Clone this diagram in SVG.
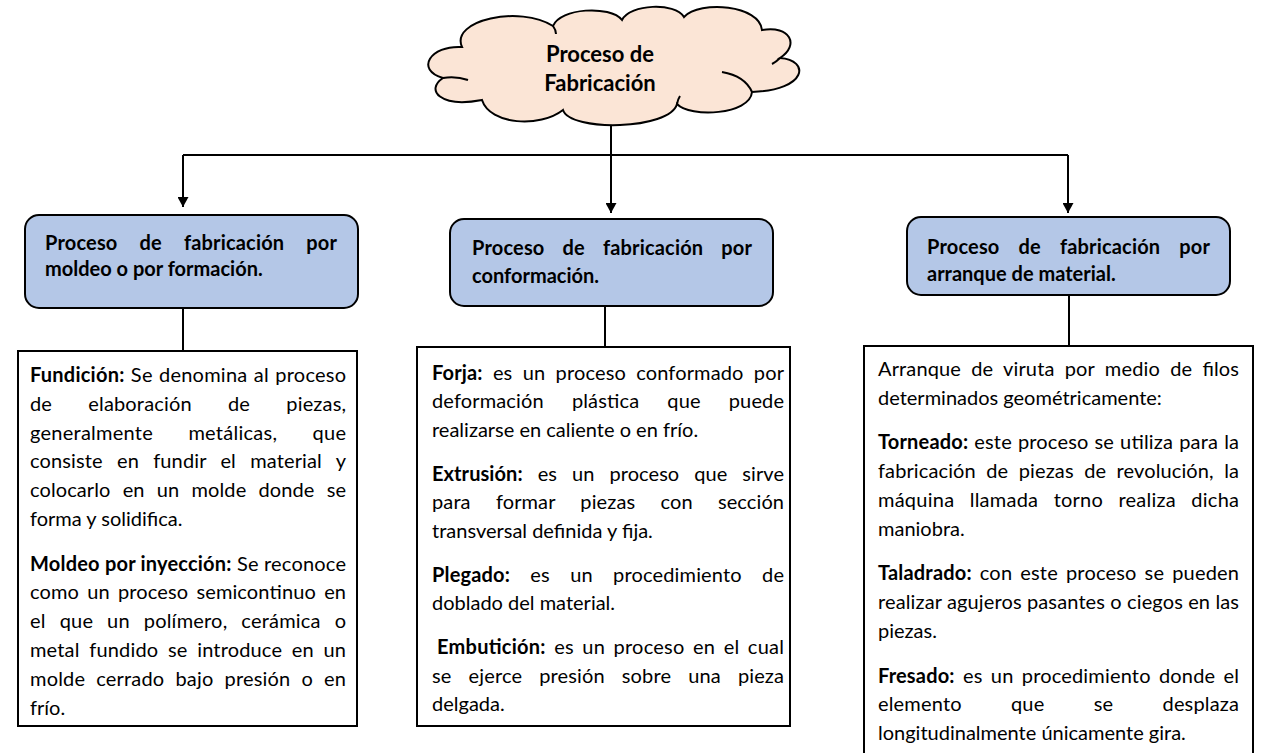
<svg xmlns="http://www.w3.org/2000/svg" width="1262" height="753" viewBox="0 0 1262 753">
<style>
.t{font-family:Lato,"Liberation Sans",sans-serif;font-size:20px;fill:#000}
.h{font-family:Lato,"Liberation Sans",sans-serif;font-size:20px;font-weight:bold;fill:#000}
.c{font-family:Lato,"Liberation Sans",sans-serif;font-size:22px;font-weight:bold;fill:#000;text-anchor:middle}
.b{font-weight:bold}
.hd{fill:#B4C7E7;stroke:#000;stroke-width:2}
.bx{fill:#fff;stroke:#000;stroke-width:2}
.ln{stroke:#000;stroke-width:2;fill:none}
.cl{fill:#FBE5D6;stroke:#000;stroke-width:2}
</style>
<defs>
<marker id="ah" markerUnits="userSpaceOnUse" markerWidth="11" markerHeight="11" refX="10" refY="5.5" orient="auto"><path d="M0,0 L10,5.5 L0,11 Z" fill="#000"/></marker>
</defs>
<rect width="1262" height="753" fill="#fff"/>

<g id="connectors">
<path class="ln" d="M611,126 V155"/>
<path class="ln" d="M183,155 H1068"/>
<path class="ln" d="M183,155 V207" marker-end="url(#ah)"/>
<path class="ln" d="M611,155 V213" marker-end="url(#ah)"/>
<path class="ln" d="M1068,155 V213" marker-end="url(#ah)"/>
<path class="ln" d="M183,308 V351"/>
<path class="ln" d="M605,306 V347"/>
<path class="ln" d="M1069,295 V346"/>
</g>

<g id="cloud">
<path class="cl" d="M462,47 C450,20 520,5 553,26 C560,8 610,5 622,20 C630,4 675,2 684,17 C700,0 760,5 762,30 C790,25 800,45 780,58 C810,60 808,90 752,92 C750,115 690,118 677,104 C670,130 570,132 563,110 C540,128 490,125 482,100 C440,108 425,90 443,78 C415,70 430,45 462,47 Z"/>
<path class="ln" d="M443,78 Q456,76 468,80"/>
<path class="ln" d="M722,72 Q745,76 752,92"/>
<path class="ln" d="M553,26 Q556,30 556,34"/>
<path class="ln" d="M780,58 Q776,62 772,64"/>
<path class="ln" d="M677,104 Q678,99 680,96"/>
<text class="c" x="600" y="62">Proceso de</text>
<text class="c" x="600" y="91">Fabricación</text>
</g>

<g id="h1">
<rect class="hd" x="25" y="215" width="333" height="93" rx="14"/>
<text class="h" x="45" y="250" textLength="292" lengthAdjust="spacing" style="word-spacing:17px">Proceso de fabricación por</text>
<text class="h" x="45" y="276">moldeo o por formación.</text>
</g>
<g id="h2">
<rect class="hd" x="450" y="219" width="323" height="87" rx="14"/>
<text class="h" x="472" y="255" textLength="280" lengthAdjust="spacing" style="word-spacing:13px">Proceso de fabricación por</text>
<text class="h" x="472" y="283">conformación.</text>
</g>
<g id="h3">
<rect class="hd" x="907" y="217" width="323" height="78" rx="14"/>
<text class="h" x="927" y="254" textLength="283" lengthAdjust="spacing" style="word-spacing:14px">Proceso de fabricación por</text>
<text class="h" x="927" y="281">arranque de material.</text>
</g>

<g id="b1">
<rect class="bx" x="18" y="351" width="339" height="375"/>
<text class="t" x="30" y="382" textLength="316" lengthAdjust="spacing" style="word-spacing:1px"><tspan class="b">Fundición:</tspan> Se denomina al proceso</text>
<text class="t" x="30" y="410.8" textLength="316" lengthAdjust="spacing" style="word-spacing:31px">de elaboración de piezas,</text>
<text class="t" x="30" y="439.6" textLength="316" lengthAdjust="spacing" style="word-spacing:30px">generalmente metálicas, que</text>
<text class="t" x="30" y="468.4" textLength="316" lengthAdjust="spacing" style="word-spacing:9px">consiste en fundir el material y</text>
<text class="t" x="30" y="497.2" textLength="316" lengthAdjust="spacing" style="word-spacing:7px">colocarlo en un molde donde se</text>
<text class="t" x="30" y="526">forma y solidifica.</text>
<text class="t" x="30" y="570.6" textLength="316" lengthAdjust="spacing"><tspan class="b">Moldeo por inyección:</tspan> Se reconoce</text>
<text class="t" x="30" y="599.4" textLength="316" lengthAdjust="spacing" style="word-spacing:3px">como un proceso semicontinuo en</text>
<text class="t" x="30" y="628.2" textLength="316" lengthAdjust="spacing" style="word-spacing:8.6px">el que un polímero, cerámica o</text>
<text class="t" x="30" y="657" textLength="316" lengthAdjust="spacing" style="word-spacing:4.4px">metal fundido se introduce en un</text>
<text class="t" x="30" y="685.8" textLength="316" lengthAdjust="spacing" style="word-spacing:5.8px">molde cerrado bajo presión o en</text>
<text class="t" x="30" y="714.6">frío.</text>
</g>

<g id="b2">
<rect class="bx" x="417" y="347" width="373" height="379"/>
<text class="t" x="432" y="379.5" textLength="352" lengthAdjust="spacing" style="word-spacing:5px"><tspan class="b">Forja:</tspan> es un proceso conformado por</text>
<text class="t" x="432" y="408" textLength="352" lengthAdjust="spacing" style="word-spacing:22.8px">deformación plástica que puede</text>
<text class="t" x="432" y="436.5">realizarse en caliente o en frío.</text>
<text class="t" x="432" y="480.5" textLength="352" lengthAdjust="spacing" style="word-spacing:9.8px"><tspan class="b">Extrusión:</tspan> es un proceso que sirve</text>
<text class="t" x="432" y="509" textLength="352" lengthAdjust="spacing" style="word-spacing:20px">para formar piezas con sección</text>
<text class="t" x="432" y="537.5">transversal definida y fija.</text>
<text class="t" x="432" y="581.5" textLength="352" lengthAdjust="spacing" style="word-spacing:15px"><tspan class="b">Plegado:</tspan> es un procedimiento de</text>
<text class="t" x="432" y="610">doblado del material.</text>
<text class="t" x="437" y="654" textLength="347" lengthAdjust="spacing" style="word-spacing:3px"><tspan class="b">Embutición:</tspan> es un proceso en el cual</text>
<text class="t" x="432" y="682.5" textLength="352" lengthAdjust="spacing" style="word-spacing:11.8px">se ejerce presión sobre una pieza</text>
<text class="t" x="432" y="711">delgada.</text>
</g>

<g id="b3">
<rect class="bx" x="864" y="346" width="389" height="415"/>
<text class="t" x="878" y="376" textLength="361" lengthAdjust="spacing" style="word-spacing:5px">Arranque de viruta por medio de filos</text>
<text class="t" x="878" y="404.8">determinados geométricamente:</text>
<text class="t" x="878" y="449.4" textLength="361" lengthAdjust="spacing" style="word-spacing:0.7px"><tspan class="b">Torneado:</tspan> este proceso se utiliza para la</text>
<text class="t" x="878" y="478.2" textLength="361" lengthAdjust="spacing" style="word-spacing:5.2px">fabricación de piezas de revolución, la</text>
<text class="t" x="878" y="507" textLength="361" lengthAdjust="spacing" style="word-spacing:10px">máquina llamada torno realiza dicha</text>
<text class="t" x="878" y="535.8">maniobra.</text>
<text class="t" x="878" y="580.4" textLength="361" lengthAdjust="spacing" style="word-spacing:2.7px"><tspan class="b">Taladrado:</tspan> con este proceso se pueden</text>
<text class="t" x="878" y="609.2" textLength="361" lengthAdjust="spacing">realizar agujeros pasantes o ciegos en las</text>
<text class="t" x="878" y="638">piezas.</text>
<text class="t" x="878" y="682.6" textLength="361" lengthAdjust="spacing" style="word-spacing:3px"><tspan class="b">Fresado:</tspan> es un procedimiento donde el</text>
<text class="t" x="878" y="711.4" textLength="361" lengthAdjust="spacing" style="word-spacing:44px">elemento que se desplaza</text>
<text class="t" x="878" y="740.2">longitudinalmente únicamente gira.</text>
</g>
</svg>
